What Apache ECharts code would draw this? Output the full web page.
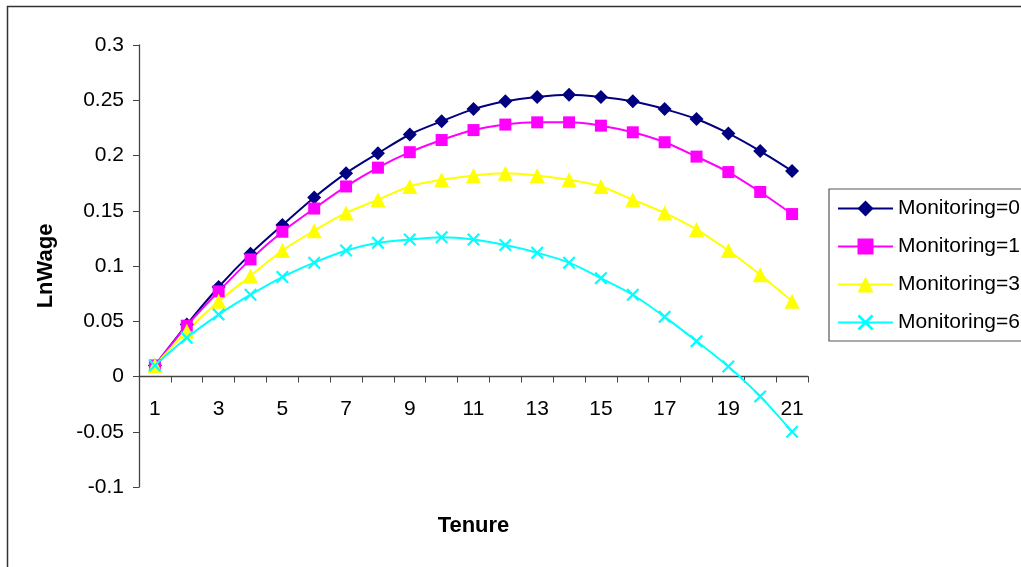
<!DOCTYPE html>
<html>
<head>
<meta charset="utf-8">
<script src="https://cdn.jsdelivr.net/npm/echarts@6/dist/echarts.min.js"></script>
<style>html,body{margin:0;padding:0;background:#fff}#c{width:1021px;height:567px}</style>
</head>
<body>
<div id="c"></div>
<script>
const tenure = ['1','2','3','4','5','6','7','8','9','10','11','12','13','14','15','16','17','18','19','20','21'];
const monitoring0 = [0.010,0.047,0.081,0.111,0.137,0.162,0.184,0.202,0.219,0.231,0.242,0.249,0.253,0.255,0.253,0.249,0.242,0.233,0.220,0.204,0.186];
const monitoring1 = [0.010,0.046,0.077,0.106,0.131,0.152,0.172,0.189,0.203,0.214,0.223,0.228,0.230,0.230,0.227,0.221,0.212,0.199,0.185,0.167,0.147];
const monitoring3 = [0.010,0.041,0.068,0.091,0.114,0.132,0.148,0.160,0.172,0.178,0.182,0.184,0.182,0.178,0.172,0.160,0.148,0.133,0.114,0.092,0.068];
const monitoring6 = [0.010,0.035,0.056,0.074,0.090,0.103,0.114,0.121,0.124,0.126,0.124,0.119,0.112,0.103,0.089,0.074,0.054,0.032,0.009,-0.018,-0.050];
const seriesNames = ['Monitoring=0','Monitoring=1','Monitoring=3','Monitoring=6'];
const yMin = -0.1, yMax = 0.3, yStep = 0.05;

const xSymbol = 'path://M0,1.2 L1.2,0 L5,3.8 L8.8,0 L10,1.2 L6.2,5 L10,8.8 L8.8,10 L5,6.2 L1.2,10 L0,8.8 L3.8,5 Z';
const font = 'Liberation Sans, Arial, sans-serif';

const gridTop = 45, gridBottom = 80, H = 567;
const plotH = H - gridTop - gridBottom;
// place the category axis on the zero line
const zeroOffset = -plotH * (0 - yMin) / (yMax - yMin);

const chart = echarts.init(document.getElementById('c'), null, {renderer:'canvas'});
function mk(name, data, color, symbol, size) {
  return {
    name, type:'line', data, smooth:0.3,
    symbol, symbolSize:size,
    lineStyle:{color, width:2},
    itemStyle:{color, borderWidth:0},
    emphasis:{disabled:true},
    animation:false
  };
}
chart.setOption({
  backgroundColor:'#fff',
  animation:false,
  textStyle:{fontFamily:font},
  graphic:[{type:'rect', left:5, top:4, shape:{width:1100, height:700}, style:{fill:'none', stroke:'#333', lineWidth:1.5}, z:-1}],
  grid:{left:139, right:213, top:gridTop, bottom:gridBottom, containLabel:false, outerBoundsMode:'none'},
  legend:{
    orient:'vertical', left:829, top:189,
    padding:[9,40,8,8],
    borderColor:'#555', borderWidth:1.2,
    itemWidth:55, itemHeight:20, itemGap:17,
    textStyle:{fontSize:21, color:'#000', fontFamily:font},
    data:seriesNames
  },
  xAxis:{
    type:'category', data:tenure, boundaryGap:true,
    position:'bottom', offset:zeroOffset,
    name:'Tenure', nameLocation:'middle', nameGap:138,
    nameTextStyle:{fontSize:22, fontWeight:'bold', color:'#000', fontFamily:font},
    axisLine:{onZero:false, lineStyle:{color:'#444', width:1.3}},
    axisTick:{show:true, interval:0, inside:false, length:6, alignWithLabel:false, lineStyle:{color:'#444'}},
    axisLabel:{interval:1, margin:22, fontSize:21, color:'#000', fontFamily:font},
    splitLine:{show:false}
  },
  yAxis:{
    type:'value', min:yMin, max:yMax, interval:yStep,
    name:'LnWage', nameLocation:'middle', nameGap:82, nameRotate:90,
    nameTextStyle:{fontSize:22, fontWeight:'bold', color:'#000', fontFamily:font},
    axisLine:{show:true, lineStyle:{color:'#444', width:1.3}},
    axisTick:{show:true, length:6, lineStyle:{color:'#444'}},
    axisLabel:{margin:15, fontSize:21, color:'#000', fontFamily:font, formatter:v => String(+v.toFixed(2))},
    splitLine:{show:false}
  },
  series:[
    mk(seriesNames[0], monitoring0, '#000080', 'diamond', 14),
    mk(seriesNames[1], monitoring1, '#FF00FF', 'rect', 12),
    mk(seriesNames[2], monitoring3, '#FFFF00', 'triangle', 15),
    mk(seriesNames[3], monitoring6, '#00FFFF', xSymbol, 13)
  ]
});
</script>
</body>
</html>
